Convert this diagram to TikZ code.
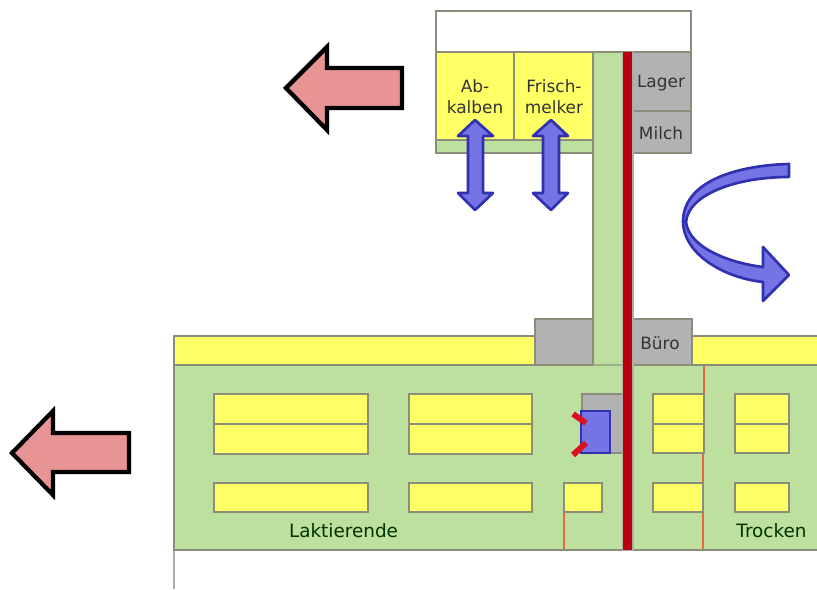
\documentclass[tikz,border=0pt]{standalone}
\usepackage{fontspec}
\setmainfont{DejaVu Sans}
\definecolor{yel}{HTML}{FFFF66}
\definecolor{grn}{HTML}{BDE09F}
\definecolor{gry}{HTML}{B2B2B2}
\definecolor{edge}{HTML}{8C8C7C}
\definecolor{wall}{HTML}{BA0010}
\definecolor{part}{HTML}{E8683A}
\definecolor{blu}{HTML}{7474E4}
\definecolor{bluedge}{HTML}{3030B0}
\definecolor{pnk}{HTML}{E89494}
\definecolor{tickred}{HTML}{DC1020}
\tikzset{
 room/.style={draw=edge,line width=2pt},
 pen/.style={room,fill=yel},
 store/.style={room,fill=gry},
 floorarea/.style={room,fill=grn},
 move/.style={draw=bluedge,line width=2pt,fill=blu,line join=round},
 exit/.style={draw=black,line width=3.2pt,fill=pnk,line join=miter},
 lbl/.style={font=\fontsize{12.7pt}{14pt}\selectfont,text=black!80,align=center,inner sep=0pt},
 lblb/.style={font=\fontsize{13.8pt}{15pt}\selectfont,text=black!80!green,inner sep=0pt},
 partition/.style={draw=part,line width=1.4pt},
 tick/.style={draw=tickred,line width=4.4pt},
 x=0.75pt,y=-0.75pt
}
\begin{document}
\begin{tikzpicture}
\useasboundingbox (0,0) rectangle (817,589);
% lower building
\draw[edge!70!white,line width=2pt] (174,336) -- (174,589);
\draw[floorarea] (174,365) rectangle (830,550);
\draw[pen] (174,336) rectangle (535,365);
\draw[pen] (692,336) rectangle (830,365);
\draw[store] (535,319) rectangle (593,365);
\draw[store] (632,319) rectangle (692,365);
% upper building
\draw[room,fill=white] (436,11) rectangle (691,52);
\draw[floorarea] (436,140) rectangle (593,153);
\draw[pen] (436,52) rectangle (514,140);
\draw[pen] (514,52) rectangle (593,140);
\draw[store] (632,52) rectangle (691,111);
\draw[store] (632,111) rectangle (691,153);
% corridor
\fill[grn] (593,53) rectangle (623,364);
\draw[edge,line width=2pt] (593,52) -- (593,365);
\draw[edge!60!grn,line width=1.6pt] (593,365) -- (623,365);
% lower pens
\draw[pen] (214,394) rectangle (368,424);
\draw[pen] (214,424) rectangle (368,454);
\draw[pen] (409,394) rectangle (532,424);
\draw[pen] (409,424) rectangle (532,454);
\draw[pen] (653,394) rectangle (704,424);
\draw[pen] (653,424) rectangle (704,453);
\draw[pen] (735,394) rectangle (789,424);
\draw[pen] (735,424) rectangle (789,453);
\draw[pen] (214,483) rectangle (368,512);
\draw[pen] (409,483) rectangle (532,512);
\draw[pen] (564,483) rectangle (602,512);
\draw[pen] (653,483) rectangle (703,512);
\draw[pen] (735,483) rectangle (789,512);
% partitions
\draw[partition] (704,366) -- (704,393);
\draw[partition] (703,454) -- (703,482);
\draw[partition] (703,513) -- (703,549);
\draw[partition] (564,513) -- (564,549);
% milking unit
\draw[store] (582,394) rectangle (623,453);
\draw[draw=bluedge,line width=2pt,fill=blu] (581,411) rectangle (610,453);
\draw[tick] (573,414) -- (586,423);
\draw[tick] (573,455) -- (586,443);
% red wall
\fill[edge!70!white] (621.5,52) rectangle (633.5,551);
\fill[wall] (623,52) rectangle (632,550);
% labels
\node[lbl] (ab) at (475,96.5) {Ab-\\[1.5pt]kalben};
\node[lbl] (fr) at (554,96.5) {Frisch-\\[1.5pt]melker};
\node[lbl] (la) at (661,83) {Lager};
\node[lbl] (mi) at (661,133) {Milch};
\node[lbl] (bu) at (660,343) {Büro};
\node[lblb] (lak) at (343.5,531) {Laktierende};
\node[lblb] (tro) at (771.5,531) {Trocken};
% double arrows
\draw[move] (475,120) -- (493,136) -- (483,136) -- (483,193) -- (493,193) -- (475,210) -- (458,193) -- (468,193) -- (468,136) -- (458,136) -- cycle;
\draw[move] (551,120) -- (568,136) -- (559,136) -- (559,193) -- (568,193) -- (551,210) -- (533,193) -- (543,193) -- (543,136) -- (533,136) -- cycle;
% curved arrow
\draw[move] (789,164) .. controls (745,165) and (683,178) .. (683,222)
 .. controls (684,255) and (725,278) .. (763,282)
 -- (763,301) -- (789,275) -- (763,247) -- (763,267)
 .. controls (730,263) and (689,248) .. (686,222)
 .. controls (688,195) and (735,177) .. (789,177) -- cycle;
% exit arrows
\draw[exit] (286,88) -- (327,47) -- (327,68) -- (402,68) -- (402,108) -- (327,108) -- (327,130) -- cycle;
\draw[exit] (12,453) -- (53,411) -- (53,433) -- (129,433) -- (129,472) -- (53,472) -- (53,495) -- cycle;
\end{tikzpicture}
\end{document}
